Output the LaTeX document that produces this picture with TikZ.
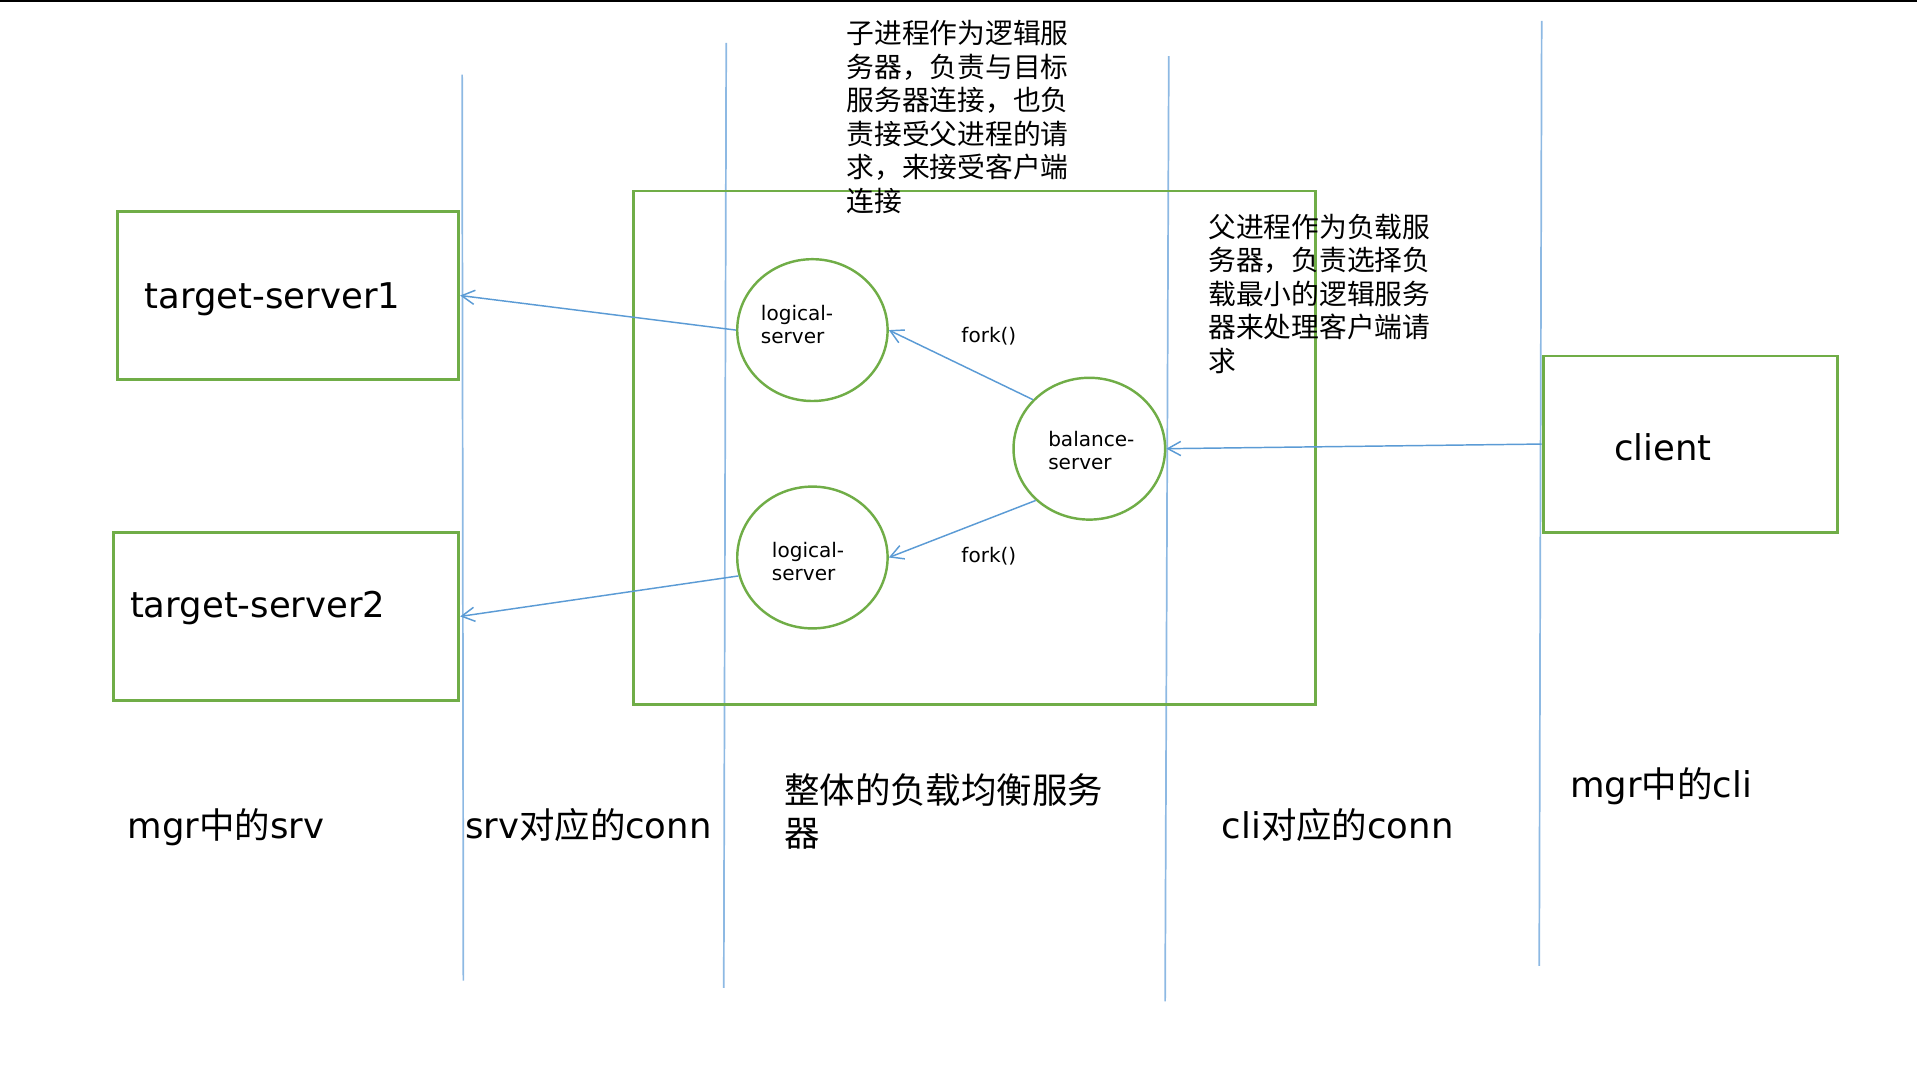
\documentclass[tikz,border=0pt]{standalone}
\usepackage{fontspec}
\setmainfont{DejaVu Sans}
\newfontfamily\cjk{Noto Sans CJK SC}
\usetikzlibrary{arrows.meta,shapes.geometric}
\definecolor{grn}{HTML}{70AD47}
\definecolor{blu}{HTML}{5B9BD5}
\definecolor{lblu}{HTML}{8DB9E3}
\begin{document}
\begin{tikzpicture}[x=0.5pt,y=-0.5pt,
  gbox/.style={draw=grn,line width=1.2pt,rectangle,inner sep=0pt,anchor=north west},
  gell/.style={draw=grn,line width=1pt,ellipse,inner sep=0pt},
  vline/.style={draw=lblu,line width=0.7pt},
  arr/.style={draw=blu,line width=0.6pt,-{Straight Barb[length=5.3pt,width=5.8pt]}},
  big/.style={inner sep=0pt,anchor=base west,font=\fontsize{14.5pt}{17.5pt}\selectfont},
  small/.style={inner sep=0pt,anchor=base west,align=left,font=\fontsize{8.2pt}{9.5pt}\selectfont},
  note/.style={inner sep=0pt,anchor=base west,align=left,font=\cjk\fontsize{11.35pt}{13.7pt}\selectfont}]
\useasboundingbox (0,0) rectangle (1568,873);
% top rule
\coordinate (tl) at (0,0.8);
\coordinate (tr) at (1568,0.8);
\draw[line width=0.9pt] (tl) -- (tr);
% vertical lines
\coordinate (v1a) at (378,61);  \coordinate (v1b) at (379,802);
\coordinate (v2a) at (594,35);  \coordinate (v2b) at (592,808);
\coordinate (v3a) at (956,46);  \coordinate (v3b) at (953,819);
\coordinate (v4a) at (1261,17); \coordinate (v4b) at (1259,790);
\draw[vline] (v1a) -- (v1b);
\draw[vline] (v2a) -- (v2b);
\draw[vline] (v3a) -- (v3b);
\draw[vline] (v4a) -- (v4b);
% boxes
\node[gbox,minimum width=139.5pt,minimum height=68.5pt] (t1) at (95,172) {};
\node[gbox,minimum width=141pt,minimum height=69pt] (t2) at (92,434) {};
\node[gbox,minimum width=279pt,minimum height=210pt] (lb) at (517,155) {};
\node[gbox,minimum width=120.5pt,minimum height=72pt] (cl) at (1261,290) {};
% ellipses
\node[gell,minimum width=61.5pt,minimum height=58pt] (l1) at (664.5,270) {};
\node[gell,minimum width=61.5pt,minimum height=58pt] (l2) at (664.5,456) {};
\node[gell,minimum width=62pt,minimum height=58pt] (bs) at (891,367) {};
% connectors
\draw[arr] (l1.west) -- (t1.east);
\draw[arr] (l2.194) -- (t2.east);
\draw[arr] (bs.139) -- (l1.east);
\draw[arr] (bs.224) -- (l2.east);
\draw[arr] (cl.west) -- (bs.east);
% texts in shapes
\node[big] (t1txt) at (118,252) {target-server1};
\node[big] (t2txt) at (106,505) {target-server2};
\node[big] (cltxt) at (1320,377) {client};
\node[small] (l1txt) at (622,281) {logical-\\server};
\node[small] (l2txt) at (631,475) {logical-\\server};
\node[small] (bstxt) at (857,384) {balance-\\server};
\node[small] (f1) at (786,280) {fork()};
\node[small] (f2) at (786,460) {fork()};
% notes
\node[note] (n1) at (692,172.6) {子进程作为逻辑服\\务器，负责与目标\\服务器连接，也负\\责接受父进程的请\\求，来接受客户端\\连接};
\node[note] (n2) at (988,303.6) {父进程作为负载服\\务器，负责选择负\\载最小的逻辑服务\\器来处理客户端请\\求};
% bottom labels
\node[big] (c1) at (104,686) {mgr{\cjk 中的}srv};
\node[big] (c2) at (380,686) {srv{\cjk 对应的}conn};
\node[big,align=left] (c3) at (641,692) {{\cjk 整体的负载均衡服务}\\{\cjk 器}};
\node[big] (c4) at (999,686) {cli{\cjk 对应的}conn};
\node[big] (c5) at (1284,652) {mgr{\cjk 中的}cli};
\end{tikzpicture}
\end{document}
